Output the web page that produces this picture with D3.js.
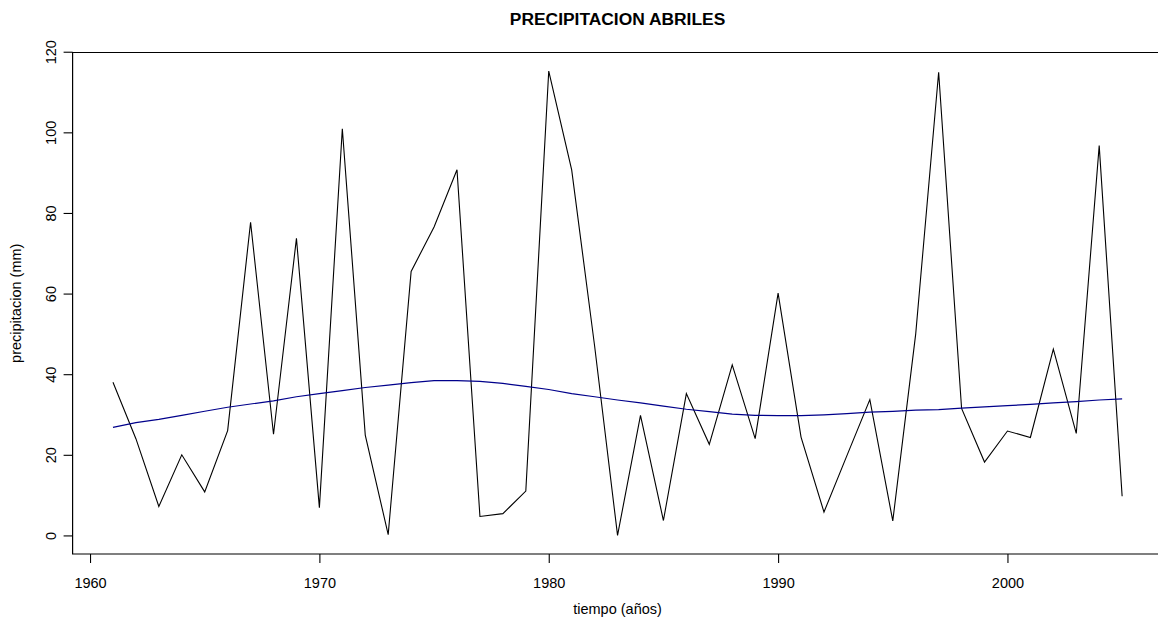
<!DOCTYPE html>
<html>
<head>
<meta charset="utf-8">
<script src="https://cdn.jsdelivr.net/npm/d3@7"></script>
<style>
  html, body { margin: 0; padding: 0; background: #ffffff; }
  svg { display: block; font-family: "Liberation Sans", Arial, sans-serif; }
</style>
</head>
<body>
<svg id="chart" width="1158" height="626"></svg>
<script>
// April precipitation per year (mm)
const years = d3.range(1961, 2006);
const precipitation = [
  38.0, 24.0, 7.2, 20.0, 10.8, 26.0, 77.7, 25.1, 73.7, 6.9,
  100.9, 24.9, 0.2, 65.5, 76.5, 90.7, 4.7, 5.4, 11.0, 115.2,
  90.7, 47.0, 0.0, 29.8, 3.7, 35.2, 22.6, 42.3, 24.0, 60.1,
  24.4, 5.8, 19.8, 33.7, 3.6, 50.0, 114.9, 31.5, 18.2, 25.9,
  24.3, 46.2, 25.3, 96.7, 9.7
];
// smoothed trend of the same series
const smoothed = [
  26.8, 28.0, 28.8, 29.8, 30.8, 31.8, 32.6, 33.4, 34.4, 35.2,
  35.9, 36.7, 37.3, 37.9, 38.4, 38.4, 38.2, 37.7, 37.0, 36.2,
  35.2, 34.4, 33.6, 32.9, 32.1, 31.3, 30.7, 30.1, 29.8, 29.7,
  29.7, 29.9, 30.2, 30.6, 30.8, 31.1, 31.2, 31.6, 31.9, 32.2,
  32.5, 32.9, 33.2, 33.6, 33.9
];
const xTicks = [1960, 1970, 1980, 1990, 2000];
const yTicks = [0, 20, 40, 60, 80, 100, 120];

const titleText = "PRECIPITACION ABRILES";
const xTitle = "tiempo (años)";
const yTitle = "precipitacion (mm)";

// plot region
const plotLeft = 72.6, plotRight = 1162.5, plotTop = 52.5, plotBottom = 554;

const svg = d3.select("#chart");

// axis ranges padded by 4% on each side
function padded(ext) {
  const d = (ext[1] - ext[0]) * 0.04;
  return [ext[0] - d, ext[1] + d];
}
const x = d3.scaleLinear().domain(padded(d3.extent(years))).range([plotLeft, plotRight]);
const y = d3.scaleLinear().domain(padded(d3.extent(precipitation))).range([plotBottom, plotTop]);

const fontSize = 14.5;
const fontFamily = "'Liberation Sans', Arial, sans-serif";

// box
svg.append("path")
  .attr("d", `M${plotRight},${plotTop}H${plotLeft}V${plotBottom}H${plotRight}`)
  .attr("fill", "none")
  .attr("stroke", "#000")
  .attr("stroke-width", 1.2);

// x axis
const gx = svg.append("g")
  .attr("transform", `translate(0,${plotBottom})`)
  .call(d3.axisBottom(x).tickValues(xTicks).tickSize(9).tickFormat(d3.format("d")));
gx.select(".domain").remove();
gx.selectAll(".tick line").attr("stroke", "#000").attr("stroke-width", 1.1);
gx.selectAll(".tick text")
  .attr("y", 33.5).attr("dy", 0)
  .attr("fill", "#000")
  .style("font-size", fontSize + "px")
  .style("font-family", fontFamily);

// y axis
const gy = svg.append("g")
  .attr("transform", `translate(${plotLeft},0)`)
  .call(d3.axisLeft(y).tickValues(yTicks).tickSize(9).tickFormat(d3.format("d")));
gy.select(".domain").remove();
gy.selectAll(".tick line").attr("stroke", "#000").attr("stroke-width", 1.1);
gy.selectAll(".tick text")
  .attr("x", 0).attr("y", -17).attr("dy", 0)
  .attr("transform", "rotate(-90)")
  .attr("text-anchor", "middle")
  .attr("fill", "#000")
  .style("font-size", fontSize + "px")
  .style("font-family", fontFamily);

// series
const line = d3.line().x((d, i) => x(years[i])).y(d => y(d));

svg.append("path")
  .datum(precipitation)
  .attr("d", line)
  .attr("fill", "none")
  .attr("stroke", "#000")
  .attr("stroke-width", 1.1)
  .attr("stroke-linejoin", "miter");

svg.append("path")
  .datum(smoothed)
  .attr("d", line)
  .attr("fill", "none")
  .attr("stroke", "#00008B")
  .attr("stroke-width", 1.2);

// titles
const cx = (plotLeft + plotRight) / 2;
svg.append("text")
  .attr("x", cx).attr("y", 25)
  .attr("text-anchor", "middle")
  .style("font-size", "17.4px")
  .style("font-weight", "bold")
  .text(titleText);

svg.append("text")
  .attr("x", cx).attr("y", 614)
  .attr("text-anchor", "middle")
  .style("font-size", fontSize + "px")
  .text(xTitle);

svg.append("text")
  .attr("transform", `translate(21,${(plotTop + plotBottom) / 2}) rotate(-90)`)
  .attr("text-anchor", "middle")
  .style("font-size", fontSize + "px")
  .text(yTitle);
</script>
</body>
</html>
